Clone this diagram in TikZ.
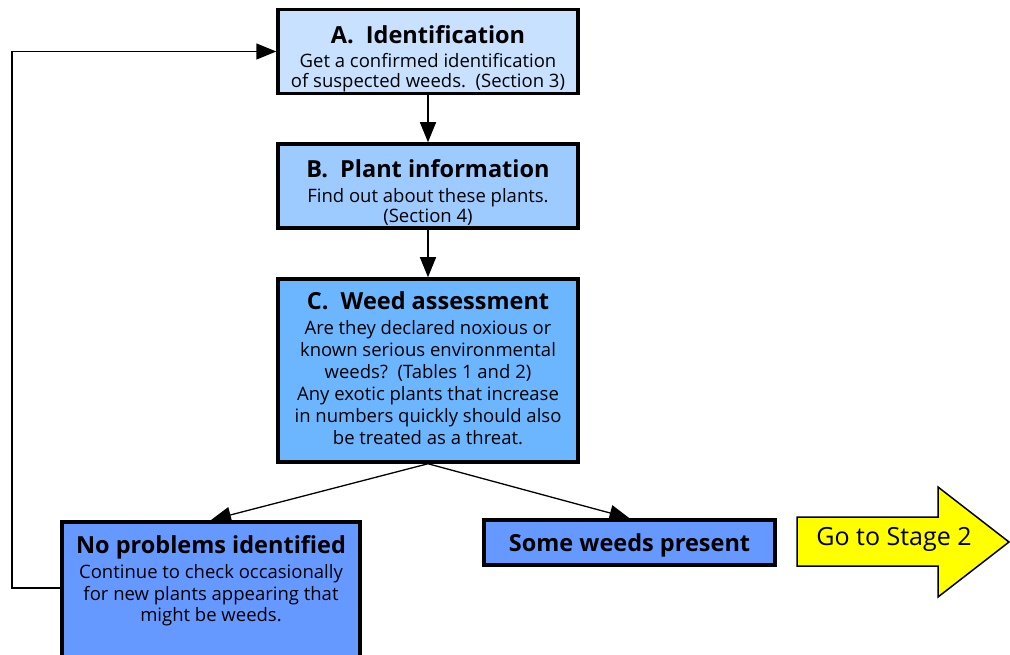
\documentclass[tikz,border=0pt]{standalone}
\usepackage{fontspec}
\setmainfont{Open Sans}
\usetikzlibrary{arrows.meta}
\definecolor{cA}{HTML}{C7E1FF}
\definecolor{cB}{HTML}{9DCBFF}
\definecolor{cC}{HTML}{6CB5FF}
\definecolor{cD}{HTML}{6699FF}
\definecolor{cY}{HTML}{FFFF00}
\newcommand\ttlf{\fontsize{23.5}{28}\selectfont\bfseries}
\tikzset{
  box/.style={draw, line width=3.5pt, inner sep=0pt},
  txt/.style={inner sep=0pt, align=center, anchor=north},
  conn/.style={line width=1.3pt, -{Triangle[length=20pt,width=16pt]}},
  fb/.style={line width=1.5pt, -{Triangle[length=20pt,width=16pt]}},
}
\begin{document}
\begin{tikzpicture}[x=1pt,y=-1pt]
\useasboundingbox (0,0) rectangle (1010,655);
\node[box, fill=cA, minimum width=300pt, minimum height=84pt] (a) at (428,51.5) {};
\node[box, fill=cB, minimum width=300pt, minimum height=84pt] (b) at (428,186) {};
\node[box, fill=cC, minimum width=300pt, minimum height=183pt] (c) at (428,370.5) {};
\node[box, fill=cD, minimum width=298pt, minimum height=150pt, anchor=north] (no) at (211,520) {};
\node[box, fill=cD, minimum width=291pt, minimum height=45pt, font=\ttlf] (sw) at (629.5,542.5) {\raisebox{-3pt}[17pt][5.5pt]{Some weeds present}};
\draw[line width=1.5pt, fill=cY] (797,517) -- (938,517) -- (938,487) -- (1009,542) -- (938,597) -- (938,566) -- (797,566) -- cycle;
\node[inner sep=0pt, font=\fontsize{25}{30}\selectfont] (go) at (894,539) {Go to Stage 2};
\begin{scope}
\clip (a.north west) ++(2pt,2pt) rectangle ([shift={(-2pt,-2pt)}]a.south east);
\node[txt, font=\fontsize{18.5}{19.5}\selectfont] (atxt) at (428,25)
  {{\ttlf A.\ \ Identification}\\[5pt] Get a confirmed identification\\ of suspected weeds.\ \ (Section 3)};
\end{scope}
\node[txt, font=\fontsize{18.5}{20}\selectfont] (btxt) at (428,159)
  {{\ttlf B.\ \ Plant information}\\[5pt] Find out about these plants.\\ (Section 4)};
\node[txt, font=\fontsize{18.5}{22}\selectfont] (ctxt) at (428,291)
  {{\ttlf C.\ \ Weed assessment}\\[3pt] Are they declared noxious or\\ known serious environmental\\ weeds?\ \ (Tables 1 and 2)\\ Any exotic plants that increase\\ in numbers quickly should also\\ be treated as a threat.};
\node[txt, font=\fontsize{18.5}{21.5}\selectfont] (notxt) at (211,535)
  {{\ttlf No problems identified}\\[4pt] Continue to check occasionally\\ for new plants appearing that\\ might be weeds.};
\draw[conn] (a) -- (b);
\draw[conn] (b) -- (c);
\draw[conn] (c.south) -- (no.north);
\draw[conn] (c.south) -- (sw.north);
\coordinate (fbc) at (12,588);
\draw[fb] (no.west |- fbc) -- (fbc) |- (a.west);
\end{tikzpicture}
\end{document}
